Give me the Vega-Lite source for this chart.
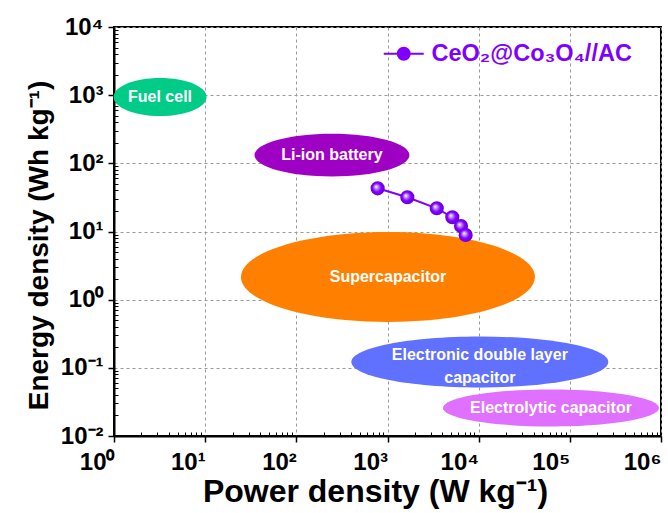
{
  "$schema": "https://vega.github.io/schema/vega-lite/v6.json",
  "width": 547,
  "height": 409,
  "autosize": "none",
  "padding": {"left": 114, "top": 27, "right": 7, "bottom": 77},
  "background": "white",
  "config": {
    "font": "Liberation Sans",
    "view": {"stroke": "black", "strokeWidth": 2}
  },
  "resolve": {"axis": {"x": "independent", "y": "independent"}},
  "datasets": {
    "regions": [
      {"name": "Fuel cell", "label": "Fuel cell", "power": 3.2, "energy": 940},
      {"name": "Li-ion battery", "label": "Li-ion battery", "power": 246, "energy": 132},
      {"name": "Supercapacitor", "label": "Supercapacitor", "power": 1012, "energy": 2.15},
      {"name": "Electronic double layer capacitor", "label": ["Electronic double layer", "capacitor"], "power": 10300, "energy": 0.122},
      {"name": "Electrolytic capacitor", "label": "Electrolytic capacitor", "power": 62100, "energy": 0.0258}
    ],
    "device": [
      {"series": "CeO₂@Co₃O₄//AC", "power": 780, "energy": 43},
      {"series": "CeO₂@Co₃O₄//AC", "power": 1650, "energy": 31.8},
      {"series": "CeO₂@Co₃O₄//AC", "power": 3470, "energy": 21.9},
      {"series": "CeO₂@Co₃O₄//AC", "power": 5140, "energy": 16.2},
      {"series": "CeO₂@Co₃O₄//AC", "power": 6400, "energy": 12.0},
      {"series": "CeO₂@Co₃O₄//AC", "power": 7200, "energy": 8.9}
    ]
  },
  "encoding": {
    "x": {"field": "power", "type": "quantitative", "scale": {"type": "log", "domain": [1, 1000000]}, "axis": null},
    "y": {"field": "energy", "type": "quantitative", "scale": {"type": "log", "domain": [0.01, 10000]}, "axis": null}
  },
  "layer": [
    {
      "data": {"name": "regions"},
      "transform": [{"filter": "datum.name === 'Fuel cell'"}],
      "mark": {"type": "point", "filled": true, "opacity": 1, "fill": "#00CC88", "strokeWidth": 0, "size": 8649, "shape": "M-1,0A1,0.409 0 1,1 1,0A1,0.409 0 1,1 -1,0Z"},
      "encoding": {
        "x": {
          "field": "power", "type": "quantitative",
          "scale": {"type": "log", "domain": [1, 1000000]},
          "axis": {
            "orient": "bottom",
            "values": [1, 10, 100, 1000, 10000, 100000, 1000000],
            "labelExpr": "['10⁰','10¹','10²','10³','10⁴','10⁵','10⁶'][round(log(datum.value)/LN10)]",
            "labelFlush": false, "labelOverlap": false, "labelAlign": "right", "labelDx": 4,
            "labelFontSize": 24, "labelFontWeight": "bold", "labelColor": "black", "labelPadding": 8,
            "grid": true, "gridDash": [3, 3], "gridColor": "#999999", "gridWidth": 1, "gridOpacity": 1,
            "tickSize": 6, "tickWidth": 1.5, "tickColor": "black",
            "domainColor": "black", "domainWidth": 2,
            "title": "Power density (W kg⁻¹)", "titleFontSize": 32, "titleFontWeight": "bold", "titleColor": "black",
            "titleX": 261, "titleY": 40, "titleBaseline": "top", "titleAlign": "center"
          }
        },
        "y": {
          "field": "energy", "type": "quantitative",
          "scale": {"type": "log", "domain": [0.01, 10000]},
          "axis": {
            "orient": "left",
            "values": [0.01, 0.1, 1, 10, 100, 1000, 10000],
            "labelExpr": "['10⁻²','10⁻¹','10⁰','10¹','10²','10³','10⁴'][round(log(datum.value)/LN10)+2]",
            "labelFlush": false, "labelOverlap": false,
            "labelFontSize": 24, "labelFontWeight": "bold", "labelColor": "black", "labelPadding": 5,
            "grid": true, "gridDash": [3, 3], "gridColor": "#999999", "gridWidth": 1, "gridOpacity": 1,
            "tickSize": 6, "tickWidth": 1.5, "tickColor": "black",
            "domainColor": "black", "domainWidth": 2,
            "title": "Energy density (Wh kg⁻¹)", "titleFontSize": 28, "titleFontWeight": "bold", "titleColor": "black",
            "titleX": -67, "titleY": 218, "titleAngle": 270, "titleBaseline": "alphabetic", "titleAlign": "center"
          }
        }
      }
    },
    {
      "data": {"name": "regions"},
      "transform": [{"filter": "datum.name === 'Li-ion battery'"}],
      "mark": {"type": "point", "filled": true, "opacity": 1, "fill": "#9E00C4", "strokeWidth": 0, "size": 24025, "shape": "M-1,0A1,0.277 0 1,1 1,0A1,0.277 0 1,1 -1,0Z"}
    },
    {
      "data": {"name": "regions"},
      "transform": [{"filter": "datum.name === 'Supercapacitor'"}],
      "mark": {"type": "point", "filled": true, "opacity": 1, "fill": "#FF8000", "strokeWidth": 0, "size": 86436, "shape": "M-1,0A1,0.306 0 1,1 1,0A1,0.306 0 1,1 -1,0Z"}
    },
    {
      "data": {"name": "regions"},
      "transform": [{"filter": "datum.name === 'Electronic double layer capacitor'"}],
      "mark": {"type": "point", "filled": true, "opacity": 1, "fill": "#6070FF", "strokeWidth": 0, "size": 66049, "shape": "M-1,0A1,0.198 0 1,1 1,0A1,0.198 0 1,1 -1,0Z"}
    },
    {
      "data": {"name": "regions"},
      "transform": [{"filter": "datum.name === 'Electrolytic capacitor'"}],
      "mark": {"type": "point", "filled": true, "opacity": 1, "fill": "#E070FF", "strokeWidth": 0, "size": 46656, "shape": "M-1,0A1,0.171 0 1,1 1,0A1,0.171 0 1,1 -1,0Z"}
    },
    {
      "data": {"name": "regions"},
      "transform": [{"filter": "datum.name !== 'Electronic double layer capacitor'"}],
      "mark": {"type": "text", "color": "white", "fontSize": 16, "fontWeight": "bold", "font": "Liberation Sans", "align": "center", "baseline": "middle"},
      "encoding": {"text": {"field": "label"}}
    },
    {
      "data": {"name": "regions"},
      "transform": [{"filter": "datum.name === 'Electronic double layer capacitor'"}],
      "mark": {"type": "text", "color": "white", "fontSize": 16, "fontWeight": "bold", "font": "Liberation Sans", "align": "center", "baseline": "middle", "lineHeight": 23, "dy": -7},
      "encoding": {"text": {"field": "label"}}
    },
    {
      "data": {"name": "device"},
      "mark": {"type": "line", "strokeWidth": 2},
      "encoding": {
        "x": {
          "field": "power", "type": "quantitative",
          "scale": {"type": "log", "domain": [1, 1000000]},
          "axis": {
            "orient": "bottom", "offset": -4,
            "values": [2,3,4,5,6,7,8,9,20,30,40,50,60,70,80,90,200,300,400,500,600,700,800,900,2000,3000,4000,5000,6000,7000,8000,9000,20000,30000,40000,50000,60000,70000,80000,90000,200000,300000,400000,500000,600000,700000,800000,900000],
            "labels": false, "domain": false, "grid": false, "title": null,
            "tickSize": 4, "tickWidth": 1, "tickColor": "black"
          }
        },
        "y": {
          "field": "energy", "type": "quantitative",
          "scale": {"type": "log", "domain": [0.01, 10000]},
          "axis": {
            "orient": "left", "offset": -4,
            "values": [0.02,0.03,0.04,0.05,0.06,0.07,0.08,0.09,0.2,0.3,0.4,0.5,0.6,0.7,0.8,0.9,2,3,4,5,6,7,8,9,20,30,40,50,60,70,80,90,200,300,400,500,600,700,800,900,2000,3000,4000,5000,6000,7000,8000,9000],
            "labels": false, "domain": false, "grid": false, "title": null,
            "tickSize": 4, "tickWidth": 1, "tickColor": "black"
          }
        },
        "color": {
          "field": "series", "type": "nominal",
          "scale": {"range": ["#8000FF"]},
          "legend": {
            "title": null, "orient": "none", "legendX": 278, "legendY": 15, "padding": 0,
            "labelFontSize": 23.5, "labelFontWeight": "bold", "labelColor": "#8000FF", "labelFont": "Liberation Sans", "labelLimit": 0,
            "symbolType": "M-2,0L-0.6,0M0.6,0L2,0M-0.6,0A0.6,0.6 0 1,1 0.6,0A0.6,0.6 0 1,1 -0.6,0Z",
            "symbolSize": 400, "symbolStrokeWidth": 2, "symbolStrokeColor": "#8000FF", "symbolFillColor": "#8000FF", "symbolOffset": 0,
            "labelOffset": 16,
            "encode": {"symbols": {"update": {"fill": {"value": "#8000FF"}, "stroke": {"value": "#8000FF"}, "strokeWidth": {"value": 2}, "opacity": {"value": 1}}}}
          }
        }
      }
    },
    {
      "data": {"name": "device"},
      "mark": {
        "type": "point", "filled": true, "opacity": 1, "size": 200, "strokeWidth": 0,
        "fill": {"gradient": "radial", "x1": 0.38, "y1": 0.38, "r1": 0, "x2": 0.5, "y2": 0.5, "r2": 0.55,
          "stops": [{"offset": 0, "color": "#FFFFFF"}, {"offset": 0.2, "color": "#D0A0FF"}, {"offset": 0.55, "color": "#8000FF"}, {"offset": 1, "color": "#6000D0"}]}
      }
    }
  ]
}
